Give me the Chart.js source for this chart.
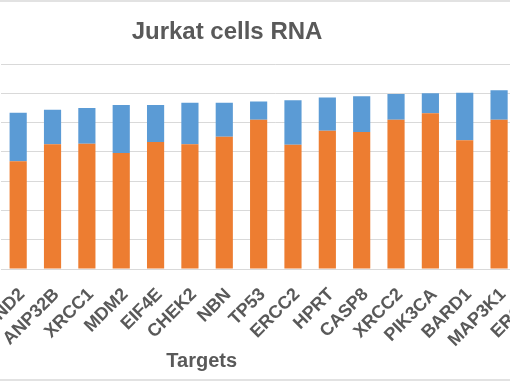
<!DOCTYPE html>
<html>
<head>
<meta charset="utf-8">
<script src="https://cdn.jsdelivr.net/npm/chart.js@4.4.1/dist/chart.umd.min.js"></script>
<style>
  html, body { margin: 0; padding: 0; background: #ffffff; }
  body { width: 510px; height: 382px; overflow: hidden; position: relative; }
  #wrap { position: absolute; left: -110px; top: 0; width: 674px; height: 382px; }
  .edge { position: absolute; left: 0; width: 510px; height: 2px; background: #e2e2e2; }
</style>
</head>
<body>
<div class="edge" style="top:0"></div>
<div class="edge" style="top:379px"></div>
<div id="wrap"><canvas id="c" width="674" height="382"></canvas></div>
<script>
// ---- data ----
const categories = ["CCND2", "ANP32B", "XRCC1", "MDM2", "EIF4E", "CHEK2", "NBN", "TP53",
                    "ERCC2", "HPRT", "CASP8", "XRCC2", "PIK3CA", "BARD1", "MAP3K1", "ERCC1"];
const lowerSeries = [18.4, 21.3, 21.4, 19.8, 21.7, 21.3, 22.6, 25.5,
                     21.2, 23.6, 23.4, 25.5, 26.6, 22.0, 25.5, 25.0];
const upperSeries = [8.3, 5.9, 6.1, 8.2, 6.3, 7.1, 5.8, 3.1,
                     7.6, 5.7, 6.1, 4.4, 3.4, 8.1, 5.0, 5.5];
const seriesNames = ["Series1", "Series2"];
const yTickValues = [0, 5, 10, 15, 20, 25, 30, 35];
const chartTitle = "Jurkat cells RNA";
const xAxisTitle = "Targets";

const TEXT = "#595959";
const FONT = "'Liberation Sans', Arial, sans-serif";

const titlesPlugin = {
  id: "titlesPlugin",
  afterDraw(chart) {
    const ctx = chart.ctx;
    ctx.save();
    ctx.fillStyle = TEXT;
    ctx.textAlign = "center";
    ctx.textBaseline = "alphabetic";
    ctx.font = "bold 24px " + FONT;
    ctx.fillText(chartTitle, 337, 39.3);
    ctx.font = "bold 20px " + FONT;
    ctx.fillText(xAxisTitle, 311.7, 366.5);
    ctx.restore();
  }
};

new Chart(document.getElementById("c"), {
  type: "bar",
  data: {
    labels: categories,
    datasets: [
      { label: seriesNames[0], data: lowerSeries, backgroundColor: "#ED7D31", borderWidth: 0,
        barPercentage: 0.5, categoryPercentage: 1.0 },
      { label: seriesNames[1], data: upperSeries, backgroundColor: "#5B9BD5", borderWidth: 0,
        barPercentage: 0.5, categoryPercentage: 1.0 }
    ]
  },
  options: {
    responsive: false,
    animation: false,
    devicePixelRatio: 1,
    layout: { padding: { left: 111, right: 9.5, top: 64, bottom: 16 } },
    plugins: {
      legend: { display: false },
      tooltip: { enabled: false },
      title: { display: false }
    },
    scales: {
      x: {
        stacked: true,
        grid: { display: false, drawTicks: false },
        border: { display: true, color: "#d9d9d9", width: 1 },
        ticks: {
          color: TEXT,
          font: { family: FONT, size: 18, weight: "bold" },
          minRotation: 45, maxRotation: 45, autoSkip: false,
          padding: 15, labelOffset: 4
        }
      },
      y: {
        stacked: true,
        min: yTickValues[0],
        max: yTickValues[yTickValues.length - 1],
        afterBuildTicks(scale) { scale.ticks = yTickValues.map(v => ({ value: v })); },
        grid: { color: "#d9d9d9", lineWidth: 1, drawTicks: false },
        border: { display: false },
        ticks: { display: false }
      }
    }
  },
  plugins: [titlesPlugin]
});
</script>
</body>
</html>
